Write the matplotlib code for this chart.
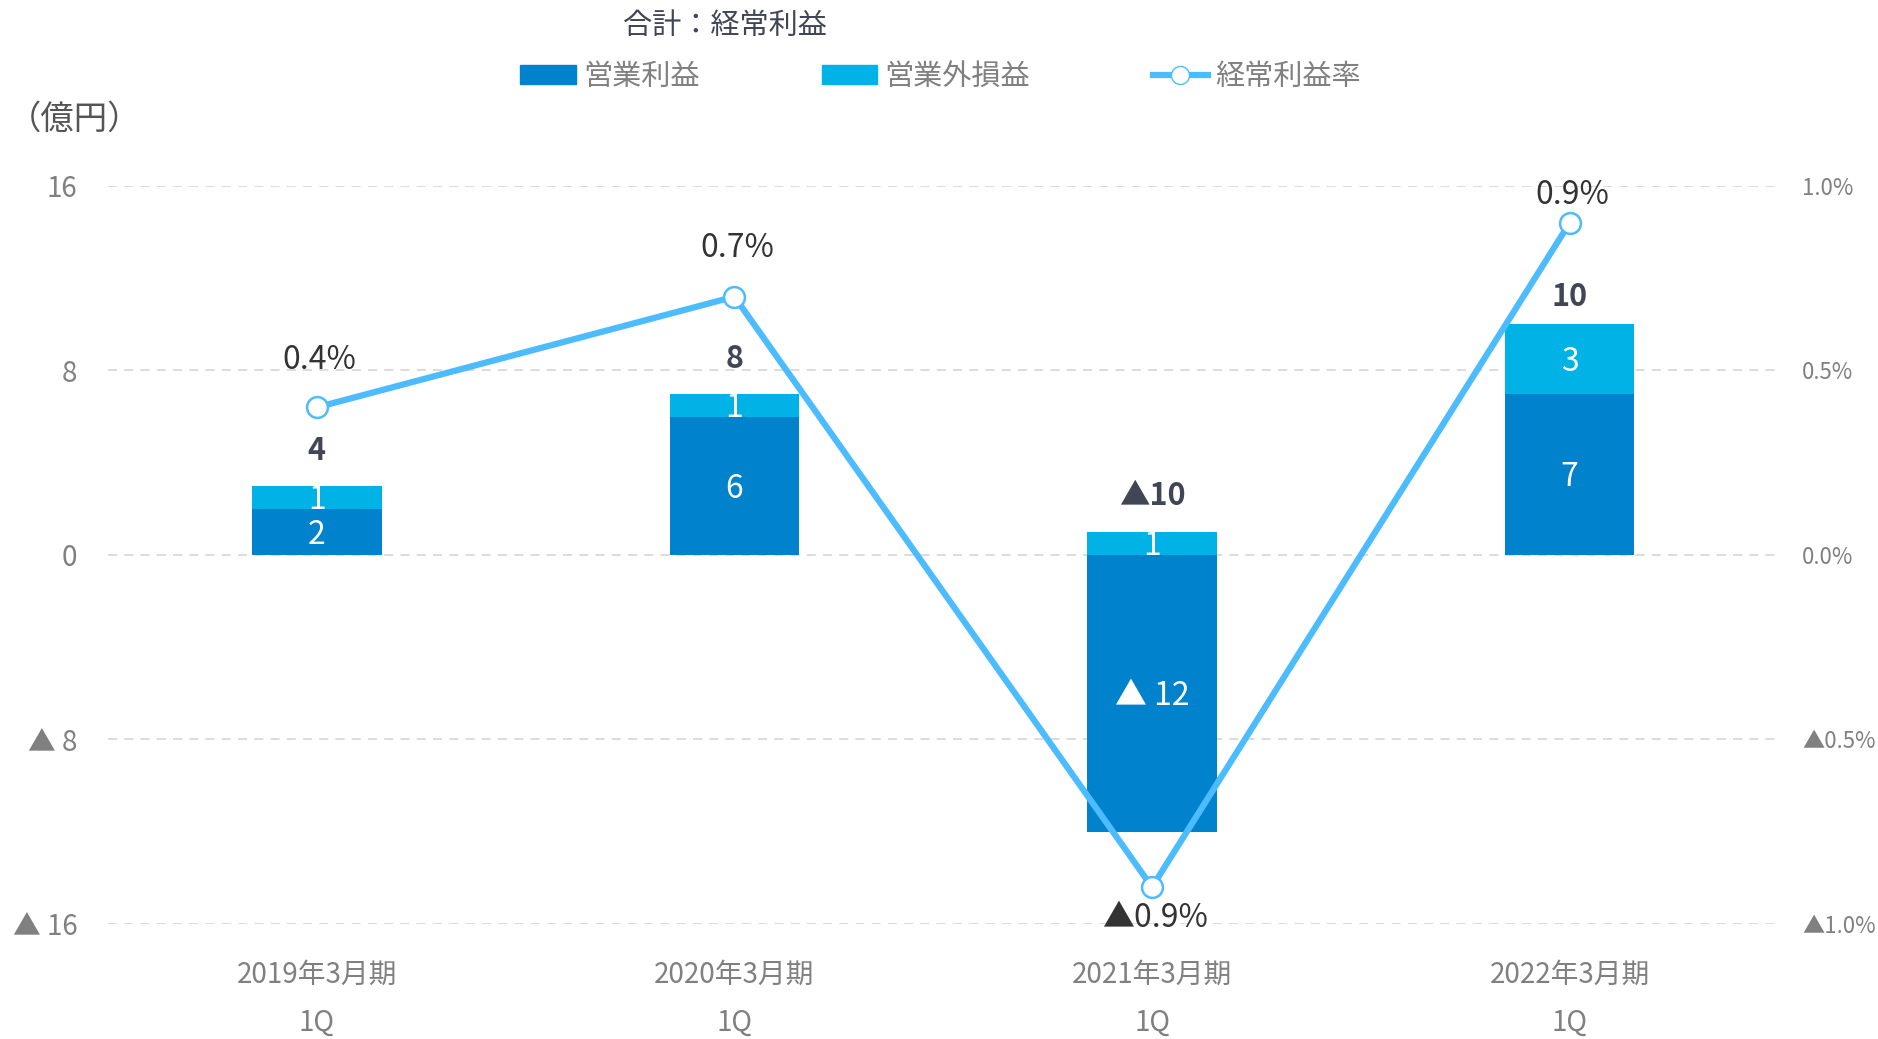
import matplotlib.pyplot as plt
from matplotlib.patches import Patch
from matplotlib.lines import Line2D

plt.rcParams['font.family'] = ['Noto Sans CJK JP', 'DejaVu Sans']

# データ（億円・%）
periods = ['2019年3月期\n1Q', '2020年3月期\n1Q', '2021年3月期\n1Q', '2022年3月期\n1Q']
op_profit = [2, 6, -12, 7]          # 営業利益
nonop_profit = [1, 1, 1, 3]         # 営業外損益
total_labels = ['4', '8', '▲10', '10']   # 経常利益（表示値）
ord_rate = [0.4, 0.7, -0.9, 0.9]    # 経常利益率

op_labels = ['2', '6', '▲ 12', '7']
nonop_labels = ['1', '1', '1', '3']
rate_labels = ['0.4%', '0.7%', '▲0.9%', '0.9%']

c_op = '#0082CC'
c_nonop = '#00B2E6'
c_line = '#4CBCFF'
c_tick = '#808080'

fig = plt.figure(figsize=(18.78, 10.39), dpi=100)
ax = fig.add_axes([0.0575, 0.1107, 0.8895, 0.7103])
x = range(len(periods))

# 積み上げ棒
ax.bar(x, op_profit, width=0.31, color=c_op, zorder=2)
ax.bar(x, nonop_profit, width=0.31, bottom=[max(v, 0) for v in op_profit], color=c_nonop, zorder=2)

tot_off = [25, 25, 26, 20]
for i in x:
    ax.annotate(op_labels[i], (i, op_profit[i] / 2), xytext=(0, -2), textcoords='offset points',
                ha='center', va='center', color='white', fontsize=23)
    base = max(op_profit[i], 0)
    ax.annotate(nonop_labels[i], (i, base + nonop_profit[i] / 2), xytext=(0, -2), textcoords='offset points',
                ha='center', va='center', color='white', fontsize=23)
    top = base + nonop_profit[i]
    ax.annotate(total_labels[i], (i, top), xytext=(0, tot_off[i]), textcoords='offset points',
                ha='center', va='center', fontsize=22, fontweight='bold', color='#404656')

ax.set_xlim(-0.5, 3.5)
ax.set_ylim(-16, 16)
ax.set_yticks([-16, -8, 0, 8, 16])
ax.set_yticklabels(['▲ 16', '▲ 8', '0', '8', '16'])
ax.set_xticks(list(x))
ax.set_xticklabels(periods, linespacing=1.75)
ax.tick_params(axis='y', length=0, pad=22, labelsize=20, labelcolor=c_tick)
ax.tick_params(axis='x', length=0, pad=26, labelsize=20, labelcolor=c_tick)
ax.grid(axis='y', color='#D9D9D9', linestyle=(0, (5, 4)), linewidth=1.3, zorder=0)
for s in ax.spines.values():
    s.set_visible(False)

# 経常利益率（右軸）
ax2 = ax.twinx()
ax2.set_ylim(-1.0, 1.0)
ax2.set_yticks([-1.0, -0.5, 0, 0.5, 1.0])
ax2.set_yticklabels(['▲1.0%', '▲0.5%', '0.0%', '0.5%', '1.0%'])
ax2.tick_params(axis='y', length=0, pad=17, labelsize=16, labelcolor=c_tick)
for s in ax2.spines.values():
    s.set_visible(False)
ax2.plot(list(x), ord_rate, color=c_line, linewidth=4.5, marker='o', markersize=15,
         markerfacecolor='white', markeredgecolor=c_line, markeredgewidth=1.8, zorder=3)
offsets = [34, 35, -22, 20]
for i in x:
    ax2.annotate(rate_labels[i], (i, ord_rate[i]), xytext=(2, offsets[i]), textcoords='offset points',
                 ha='center', va='center', fontsize=23, color='#333333')

# 凡例
fig.text(0.386, 0.975, '合計：経常利益', ha='center', va='center', fontsize=21, color='#404656')
handles = [Patch(color=c_op), Patch(color=c_nonop),
           Line2D([], [], color=c_line, linewidth=4.5, marker='o', markersize=13,
                  markerfacecolor='white', markeredgecolor=c_line)]
leg = fig.legend(handles, ['営業利益', '営業外損益', '経常利益率'], ncol=3, frameon=False,
                 loc='center left', bbox_to_anchor=(0.263, 0.926), fontsize=21,
                 handlelength=1.9, handleheight=0.6, handletextpad=0.25, columnspacing=4.2)
for t in leg.get_texts():
    t.set_color(c_tick)

fig.text(0.004, 0.885, '（億円）', ha='left', va='center', fontsize=24, color='#555555')

plt.savefig('out.png', dpi=100)
